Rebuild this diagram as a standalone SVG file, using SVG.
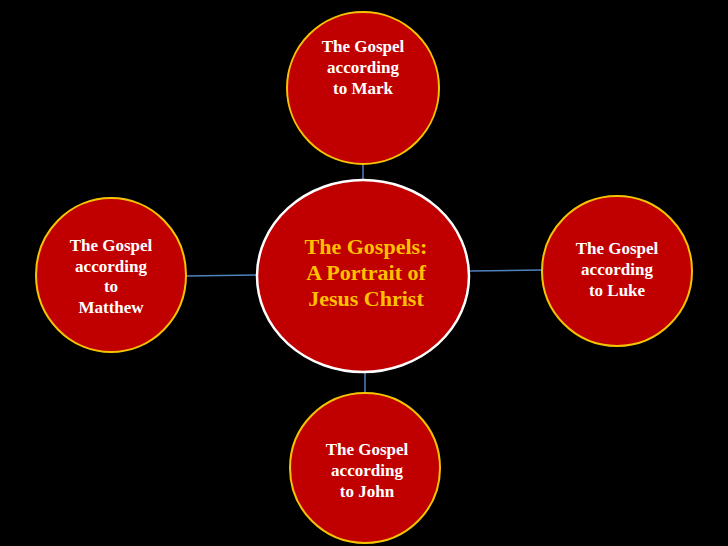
<svg xmlns="http://www.w3.org/2000/svg" width="728" height="546" viewBox="0 0 728 546">
<style>
.c{fill:#c00000;stroke:#f5c400;stroke-width:2}
.m{fill:#c00000;stroke:#ffffff;stroke-width:2.5}
.t{font-family:"Liberation Serif",serif;font-weight:bold;font-size:17px;fill:#fff;text-anchor:middle}
.tc{font-family:"Liberation Serif",serif;font-weight:bold;font-size:22px;fill:#ffc000;text-anchor:middle}
.l{stroke:#4f81bd;stroke-width:1.5}
</style>
<rect width="728" height="546" fill="#000"/>
<g id="connectors">
<line class="l" x1="363" y1="164" x2="363" y2="180"/>
<line class="l" x1="186" y1="276" x2="257" y2="275"/>
<line class="l" x1="469" y1="271" x2="541" y2="270"/>
<line class="l" x1="365" y1="372" x2="365" y2="392"/>
</g>
<g id="center"><ellipse class="m" cx="363" cy="276" rx="106" ry="96"/>
<text class="tc" x="366" y="254">The Gospels:</text><text class="tc" x="366" y="280">A Portrait of</text><text class="tc" x="366" y="306">Jesus Christ</text></g>
<g id="mark"><circle class="c" cx="363" cy="88" r="76"/>
<text class="t" x="363" y="52">The  Gospel</text><text class="t" x="363" y="73">according</text><text class="t" x="363" y="94">to Mark</text></g>
<g id="matthew"><ellipse class="c" cx="111" cy="275" rx="75" ry="77"/>
<text class="t" x="111" y="251">The Gospel</text><text class="t" x="111" y="272">according</text><text class="t" x="111" y="292">to</text><text class="t" x="111" y="313">Matthew</text></g>
<g id="luke"><circle class="c" cx="617" cy="271" r="75"/>
<text class="t" x="617" y="254">The Gospel</text><text class="t" x="617" y="275">according</text><text class="t" x="617" y="296">to Luke</text></g>
<g id="john"><circle class="c" cx="365" cy="468" r="75"/>
<text class="t" x="367" y="455">The Gospel</text><text class="t" x="367" y="476">according</text><text class="t" x="367" y="497">to John</text></g>
</svg>
